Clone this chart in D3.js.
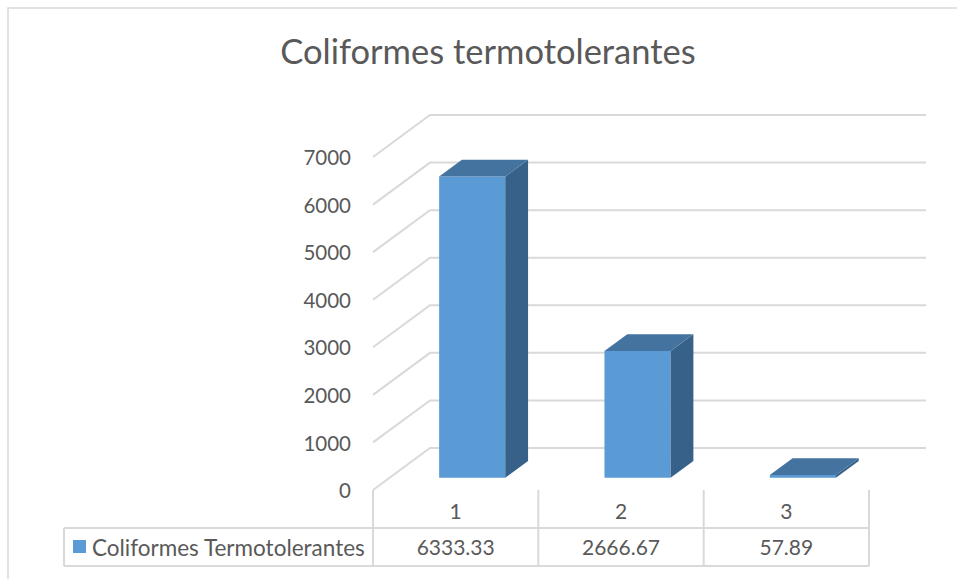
<!DOCTYPE html>
<html>
<head>
<meta charset="utf-8">
<script src="https://cdn.jsdelivr.net/npm/d3@7"></script>
<style>
  body { margin: 0; background: #fff; }
  text { font-family: Lato, "Liberation Sans", sans-serif; fill: #595959; }
</style>
</head>
<body>
<div id="chart"></div>
<script>
// chart values
const categories = ["1", "2", "3"];
const values = [6333.33, 2666.67, 57.89];
const valueLabels = ["6333.33", "2666.67", "57.89"];
const seriesName = "Coliformes Termotolerantes";
const yTicks = [0, 1000, 2000, 3000, 4000, 5000, 6000, 7000];

const width = 957, height = 579;

const svg = d3.select("#chart").append("svg")
    .attr("width", width)
    .attr("height", height);

// outer chart frame (only top and left edges show in the picture)
svg.append("rect")
    .attr("x", 8).attr("y", 8)
    .attr("width", 1000).attr("height", 1000)
    .attr("fill", "none")
    .attr("stroke", "#d9d9d9")
    .attr("stroke-width", 1.5);

// title
svg.append("text")
    .attr("x", 488).attr("y", 64)
    .attr("text-anchor", "middle")
    .attr("font-size", 34.5)
    .text("Coliformes termotolerantes");

// front plane scales + depth vector for the 3d look
const x = d3.scaleBand()
    .domain(categories)
    .range([373, 869])
    .paddingInner(0.6)
    .paddingOuter(0.3);

const y = d3.scaleLinear()
    .domain([0, 7000])
    .range([490, 157]);

const depth = { dx: 57, dy: -42 };
const barFront = 0.29, barBack = 0.69;

function proj(px, v, d) {
    return [px + d * depth.dx, y(v) + d * depth.dy];
}

// gridlines: diagonal side wall + back wall
const grid = svg.append("g");
yTicks.forEach(t => {
    const a = proj(x.range()[0], t, 0);
    const b = proj(x.range()[0], t, 1);
    const c = proj(x.range()[1], t, 1);
    grid.append("path")
        .attr("d", d3.line()([a, b, c]))
        .attr("fill", "none")
        .attr("stroke", "#d9d9d9")
        .attr("stroke-width", 2);
});

// y axis labels
svg.append("g").selectAll("text")
    .data(yTicks)
    .enter().append("text")
    .attr("x", 351)
    .attr("y", d => y(d) + 1)
    .attr("dy", "0.35em")
    .attr("text-anchor", "end")
    .attr("font-size", 20.5)
    .text(d => d);

// bars
const bars = svg.append("g");
categories.forEach((c, i) => {
    const v = values[i];
    const x0 = x(c), x1 = x(c) + x.bandwidth();
    const fbl = proj(x0, 0, barFront), fbr = proj(x1, 0, barFront);
    const ftl = proj(x0, v, barFront), ftr = proj(x1, v, barFront);
    const bbr = proj(x1, 0, barBack);
    const btl = proj(x0, v, barBack), btr = proj(x1, v, barBack);

    bars.append("path")
        .attr("d", d3.line()([fbl, fbr, ftr, ftl]) + "Z")
        .attr("fill", "#5b9bd5");
    bars.append("path")
        .attr("d", d3.line()([fbr, bbr, btr, ftr]) + "Z")
        .attr("fill", "#386189");
    bars.append("path")
        .attr("d", d3.line()([ftl, ftr, btr, btl]) + "Z")
        .attr("fill", "#44739f");
});

// data table
const table = svg.append("g")
    .attr("stroke", "#d9d9d9")
    .attr("stroke-width", 2);
const rowTop = 490, rowMid = 528, rowBot = 566, tableLeft = 64;
const edges = [x.range()[0]].concat(categories.map(c => x(c) - x.step() * x.paddingInner() / 2 + x.step()));
edges.forEach(e => {
    table.append("line").attr("x1", e).attr("x2", e).attr("y1", rowTop).attr("y2", rowBot);
});
table.append("line").attr("x1", tableLeft).attr("x2", x.range()[1]).attr("y1", rowMid).attr("y2", rowMid);
table.append("line").attr("x1", tableLeft).attr("x2", x.range()[1]).attr("y1", rowBot).attr("y2", rowBot);
table.append("line").attr("x1", tableLeft).attr("x2", tableLeft).attr("y1", rowMid).attr("y2", rowBot);

const colCenter = i => (edges[i] + edges[i + 1]) / 2;

svg.append("g").selectAll("text")
    .data(categories)
    .enter().append("text")
    .attr("x", (d, i) => colCenter(i))
    .attr("y", (rowTop + rowMid) / 2 + 3)
    .attr("dy", "0.35em")
    .attr("text-anchor", "middle")
    .attr("font-size", 21)
    .text(d => d);

svg.append("g").selectAll("text")
    .data(valueLabels)
    .enter().append("text")
    .attr("x", (d, i) => colCenter(i))
    .attr("y", (rowMid + rowBot) / 2 + 1)
    .attr("dy", "0.35em")
    .attr("text-anchor", "middle")
    .attr("font-size", 21)
    .text(d => d);

// legend key in the table's first cell
svg.append("rect")
    .attr("x", 73).attr("y", 540)
    .attr("width", 13).attr("height", 13)
    .attr("fill", "#5b9bd5");
svg.append("text")
    .attr("x", 92)
    .attr("y", (rowMid + rowBot) / 2 + 1)
    .attr("dy", "0.35em")
    .attr("font-size", 22.5)
    .text(seriesName);
</script>
</body>
</html>
